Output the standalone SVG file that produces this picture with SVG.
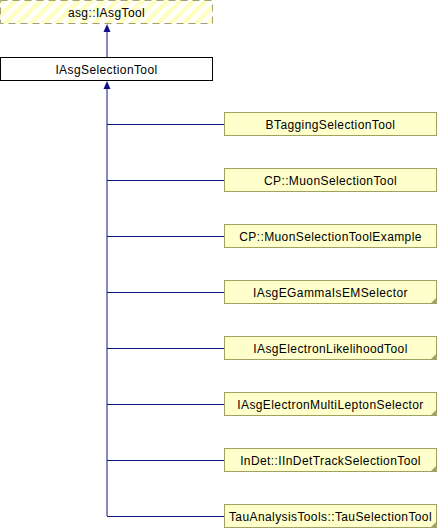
<svg xmlns="http://www.w3.org/2000/svg" width="438" height="528" viewBox="0 0 438 528">
<style>
.lbl{font-family:"Liberation Sans",Arial,sans-serif;font-size:12px;letter-spacing:0.4px;fill:#000;text-anchor:middle}
.cls{fill:#ffffcc;stroke:#a0a060;stroke-width:1}
.tri{fill:#a0a060}
.edge{stroke:#10108a;stroke-width:1;fill:none}
.ah{fill:#10108a}
</style>
<defs>
<pattern id="hatch" patternUnits="userSpaceOnUse" width="9" height="9" patternTransform="rotate(45)">
<rect width="9" height="9" fill="#ffffff"/>
<rect width="4.5" height="9" fill="#ffffc0"/>
</pattern>
</defs>
<g id="connectors">
<line class="edge" x1="107" y1="57" x2="107" y2="30"/>
<polygon class="ah" points="107,24 110.5,32 103.5,32"/>
<line class="edge" x1="107" y1="87" x2="107" y2="516"/>
<polygon class="ah" points="107,81 110.5,89 103.5,89"/>
<path class="edge" d="M107,124.5H224 M107,180.5H224 M107,236.5H224 M107,292.5H224 M107,348.5H224 M107,404.5H224 M107,460.5H224 M107,516.5H224"/>
</g>
<g id="asg_IAsgTool">
<rect x="0.5" y="0.5" width="212" height="23" fill="url(#hatch)" stroke="#a0a070" stroke-dasharray="7,5"/>
<text class="lbl" x="106.5" y="16.5">asg::IAsgTool</text>
</g>
<g id="IAsgSelectionTool">
<rect x="0.5" y="57.5" width="212" height="23" fill="#ffffff" stroke="#000"/>
<text class="lbl" x="106.5" y="73.5">IAsgSelectionTool</text>
</g>
<g id="BTaggingSelectionTool">
<rect class="cls" x="224.5" y="112.5" width="212" height="23"/>
<text class="lbl" x="330.5" y="128.5">BTaggingSelectionTool</text>
</g>
<g id="CP_MuonSelectionTool">
<rect class="cls" x="224.5" y="168.5" width="212" height="23"/>
<text class="lbl" x="330.5" y="184.5">CP::MuonSelectionTool</text>
</g>
<g id="CP_MuonSelectionToolExample">
<rect class="cls" x="224.5" y="224.5" width="212" height="23"/>
<text class="lbl" x="330.5" y="240.5">CP::MuonSelectionToolExample</text>
</g>
<g id="IAsgEGammaIsEMSelector">
<rect class="cls" x="224.5" y="280.5" width="212" height="23"/>
<polygon class="tri" points="437,297 437,304 430,304"/>
<text class="lbl" x="330.5" y="296.5">IAsgEGammaIsEMSelector</text>
</g>
<g id="IAsgElectronLikelihoodTool">
<rect class="cls" x="224.5" y="336.5" width="212" height="23"/>
<polygon class="tri" points="437,353 437,360 430,360"/>
<text class="lbl" x="330.5" y="352.5">IAsgElectronLikelihoodTool</text>
</g>
<g id="IAsgElectronMultiLeptonSelector">
<rect class="cls" x="224.5" y="392.5" width="212" height="23"/>
<polygon class="tri" points="437,409 437,416 430,416"/>
<text class="lbl" x="330.5" y="408.5">IAsgElectronMultiLeptonSelector</text>
</g>
<g id="InDet_IInDetTrackSelectionTool">
<rect class="cls" x="224.5" y="448.5" width="212" height="23"/>
<polygon class="tri" points="437,465 437,472 430,472"/>
<text class="lbl" x="330.5" y="464.5">InDet::IInDetTrackSelectionTool</text>
</g>
<g id="TauAnalysisTools_TauSelectionTool">
<rect class="cls" x="224.5" y="504.5" width="212" height="23"/>
<polygon class="tri" points="437,521 437,528 430,528"/>
<text class="lbl" x="330.5" y="520.5">TauAnalysisTools::TauSelectionTool</text>
</g>
</svg>
